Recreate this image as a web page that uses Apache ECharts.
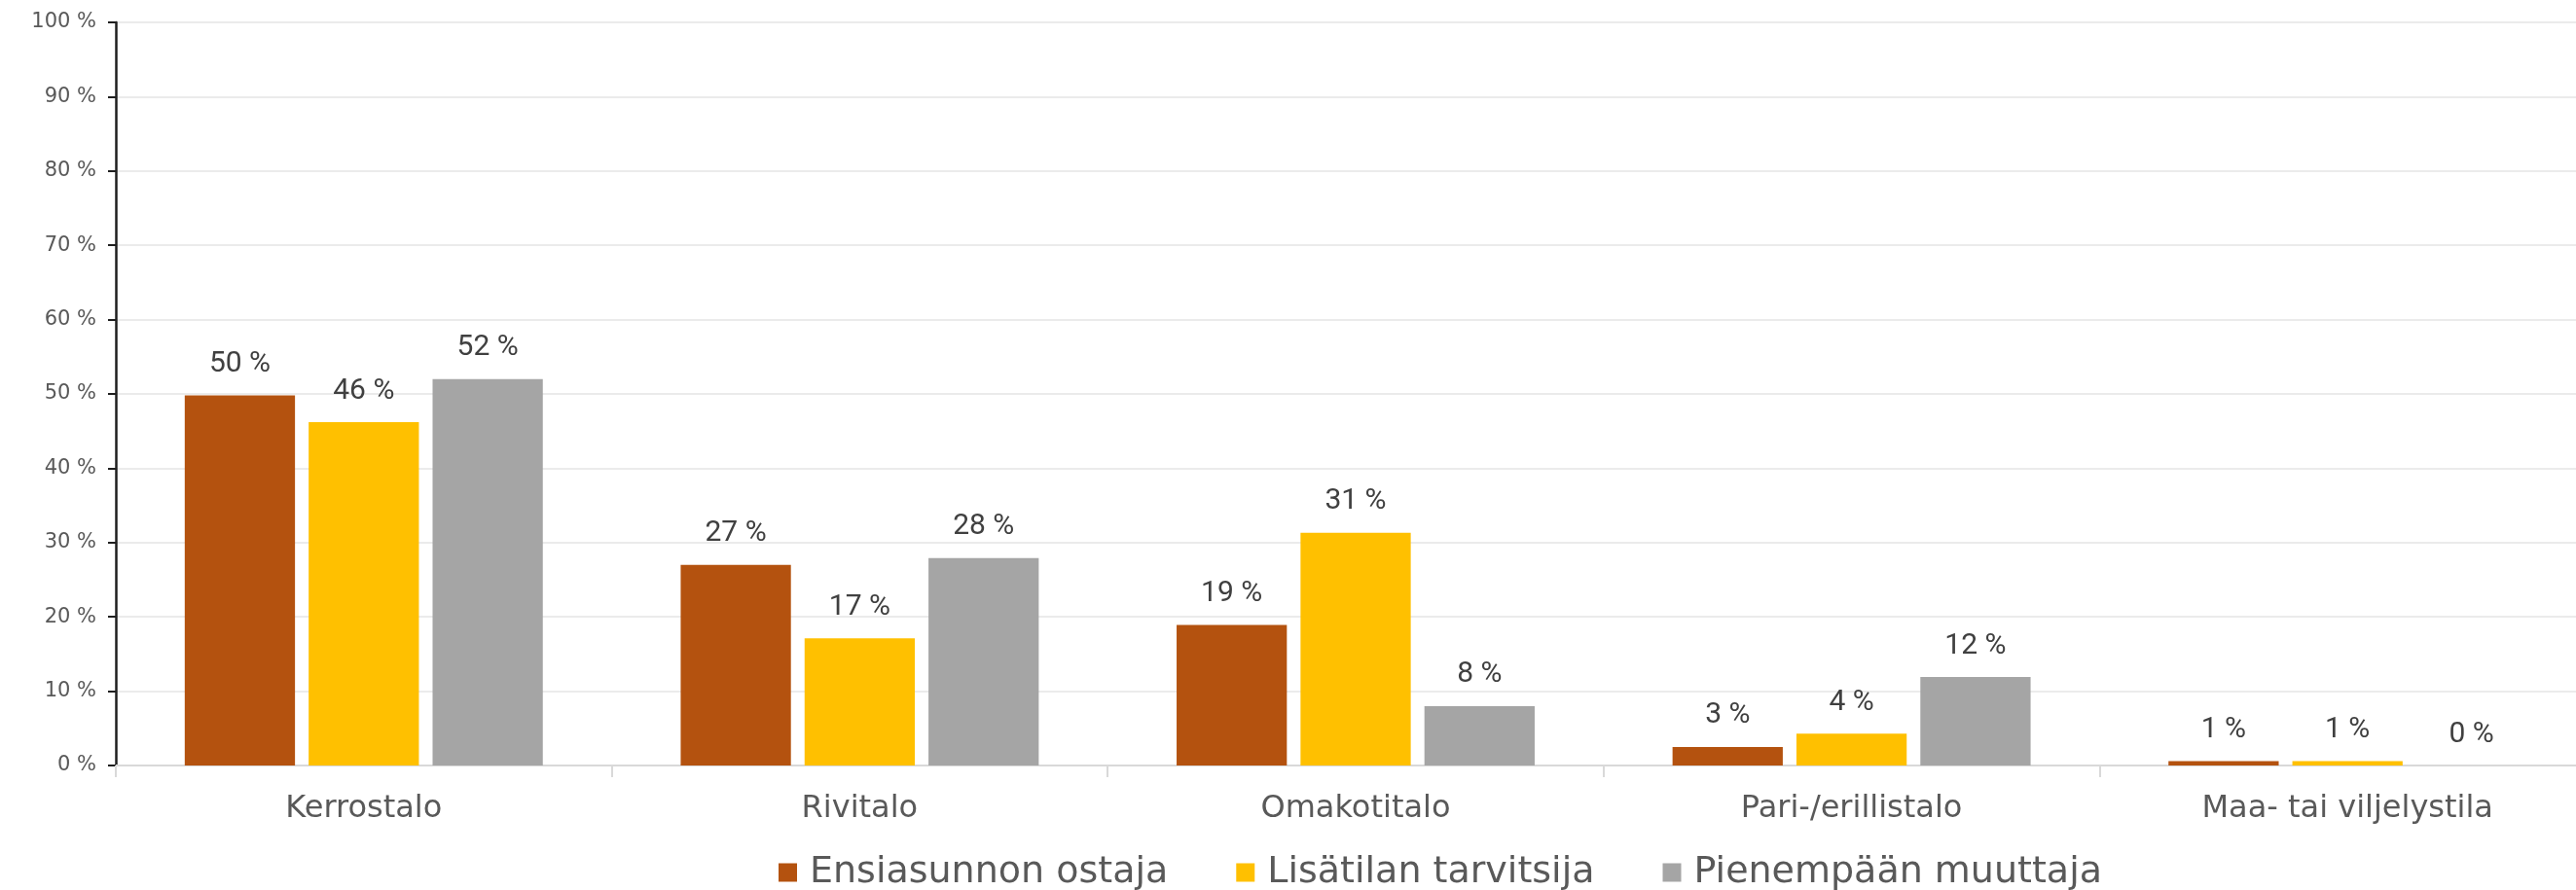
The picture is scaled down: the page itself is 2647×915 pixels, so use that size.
<!DOCTYPE html>
<html>
<head>
<meta charset="utf-8">
<script src="https://cdn.jsdelivr.net/npm/echarts@6/dist/echarts.min.js"></script>
<style>
  html, body { margin: 0; padding: 0; background: #fff; }
  #chart { width: 2647px; height: 915px; }
</style>
</head>
<body>
<div id="chart"></div>
<script>
// talotyypit
const categories = ['Kerrostalo', 'Rivitalo', 'Omakotitalo', 'Pari-/erillistalo', 'Maa- tai viljelystila']
const seriesNames = ['Ensiasunnon ostaja', 'Lisätilan tarvitsija', 'Pienempään muuttaja']
// arvot luettu kuvasta (%)
const ensiasunnonOstaja = [49.8, 27.0, 18.9, 2.5, 0.6]
const lisatilanTarvitsija = [46.2, 17.1, 31.3, 4.3, 0.6]
const pienempaanMuuttaja = [52.0, 27.9, 8.0, 11.9, 0]
const yTicks = [0, 10, 20, 30, 40, 50, 60, 70, 80, 90, 100]

const colors = ['#B4520F', '#FFC000', '#A5A5A5']
const wideFont = 'DejaVu Sans'

let chart = echarts.init(document.getElementById('chart'))

function barSeries(name, data, color) {
    return {
        name: name,
        type: 'bar',
        data: data,
        barGap: '12.4%',
        barCategoryGap: '27.8%',
        itemStyle: { color: color },
        label: {
            show: true,
            position: 'top',
            distance: 17,
            color: '#404040',
            fontFamily: 'Roboto',
            fontSize: 30,
            formatter: p => Math.round(p.value) + ' %'
        }
    }
}

chart.setOption({
    animation: false,
    backgroundColor: '#ffffff',
    grid: {
        left: 119,
        right: -20,
        top: 23,
        bottom: 128,
        outerBoundsMode: 'none' // plot area runs a bit past the right edge, as in the original
    },
    legend: {
        left: 800,
        top: 878,
        padding: 0,
        itemGap: 70,
        itemWidth: 19,
        itemHeight: 19,
        icon: 'rect',
        data: seriesNames,
        textStyle: {
            color: '#595959',
            fontFamily: wideFont,
            fontSize: 38,
            padding: [0, 0, 0, 8]
        }
    },
    xAxis: {
        type: 'category',
        data: categories,
        axisLine: { lineStyle: { color: '#d9d9d9', width: 2 } },
        axisTick: { show: true, length: 12, lineStyle: { color: '#d9d9d9', width: 2 } },
        axisLabel: {
            color: '#595959',
            fontFamily: wideFont,
            fontSize: 32,
            margin: 29
        }
    },
    yAxis: {
        type: 'value',
        min: yTicks[0],
        max: yTicks[yTicks.length - 1],
        interval: 10,
        axisLine: { show: true, lineStyle: { color: '#1f1f1f', width: 2.5 } },
        axisTick: { show: true, length: 8, lineStyle: { color: '#1f1f1f', width: 2 } },
        splitLine: { lineStyle: { color: '#ebebeb', width: 2 } },
        axisLabel: {
            color: '#595959',
            fontFamily: wideFont,
            fontSize: 21,
            margin: 20,
            formatter: '{value} %'
        }
    },
    series: [
        barSeries(seriesNames[0], ensiasunnonOstaja, colors[0]),
        barSeries(seriesNames[1], lisatilanTarvitsija, colors[1]),
        barSeries(seriesNames[2], pienempaanMuuttaja, colors[2])
    ]
})
</script>
</body>
</html>
